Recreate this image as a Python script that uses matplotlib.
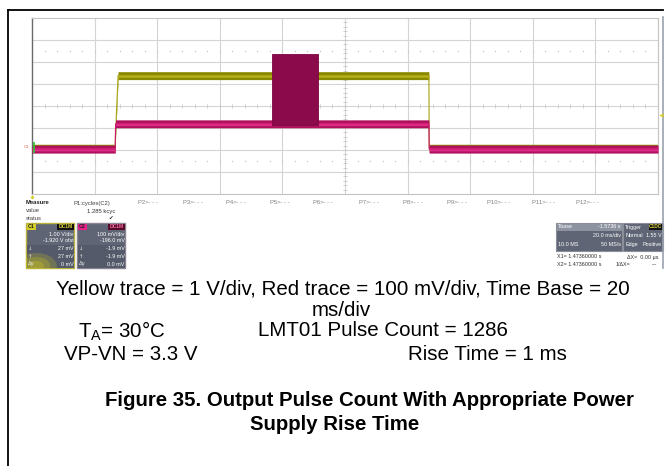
import numpy as np
import matplotlib
matplotlib.use("Agg")
import matplotlib.pyplot as plt
from matplotlib.patches import Rectangle, Ellipse

plt.rcParams['font.family'] = ['Liberation Sans', 'DejaVu Sans']
plt.rcParams['mathtext.fontset'] = 'custom'
plt.rcParams['mathtext.rm'] = 'Liberation Sans'

# scope channel settings
c1_scale = 1.0        # V/div
c1_offset = -1.920    # V
c2_scale = 100.0      # mV/div
c2_offset = -196.0    # mV
time_per_div = 20.0   # ms/div

# C1 (yellow): supply VP-VN in V, time in ms from left of screen
c1_t = [0, 26.5, 27.5, 126.8, 126.9, 200]
c1_v = [0, 0, 3.3, 3.3, 0, 0]

# C2 (red): current sense in mV
c2_t = [0, 26.6, 26.7, 126.8, 126.9, 200]
c2_mv = [0, 0, 115, 115, 0, 0]

# LMT01 output pulse burst seen on C2
burst_t = [76.7, 91.4]
burst_mv = [110, 432]

measure_labels = ["P2>- - -", "P3>- - -", "P4>- - -", "P5>- - -", "P6>- - -", "P7>- - -",
                  "P8>- - -", "P9>- - -", "P10>- - -", "P11>- - -", "P12>- - -"]
measure_x = [138, 183, 226, 270, 313, 359, 403, 447, 487, 532, 576]


def to_div(vals, offset, scale):
    return (np.asarray(vals, dtype=float) + offset) / scale


W, H = 668, 466
fig = plt.figure(figsize=(W / 100, H / 100), dpi=100)
fig.patch.set_facecolor("white")

# ---- scope screen ----
ax = fig.add_axes([32 / W, 1 - 194 / H, 626 / W, 176 / H])
ax.set_xlim(0, 10 * time_per_div)
ax.set_ylim(-4, 4)
ax.set_xticks([])
ax.set_yticks([])
for s in ax.spines.values():
    s.set_color("#c4c4c4")
    s.set_linewidth(0.8)
ax.spines["left"].set_color("#6a6a6a")
ax.spines["left"].set_linewidth(1.0)

grid_c = "#d4d4d4"
for i in range(1, 10):
    ax.axvline(i * time_per_div, color=grid_c, lw=0.8, zorder=0)
for j in range(-3, 4):
    ax.axhline(j, color=grid_c, lw=0.8, zorder=0)

# center cross minor ticks and dotted rows
tick_t = np.arange(0, 200.1, time_per_div / 5)
ax.plot(tick_t, np.zeros_like(tick_t), ls="none", marker="|", ms=3.2, mew=0.6,
        color="#c8c8c8", zorder=0)
tick_y = np.arange(-4, 4.01, 0.2)
ax.plot(np.full_like(tick_y, 100), tick_y, ls="none", marker="_", ms=3.2, mew=0.6,
        color="#c8c8c8", zorder=0)
for yy in (2.5, -2.5):
    ax.plot(tick_t, np.full_like(tick_t, yy), ls="none", marker="s", ms=0.9,
            mew=0, color="#c6c6c6", zorder=0)

# C1 trace
y1 = to_div(c1_v, c1_offset, c1_scale)
ax.fill_between(c1_t, y1 - 0.18, y1 + 0.18, color="#8a8800", lw=0, zorder=2)
ax.fill_between(c1_t, y1 - 0.07, y1 + 0.05, color="#b9b51c", lw=0, zorder=2)
ax.plot(c1_t, y1, color="#a8a414", lw=0.8, zorder=2)

# C2 trace
y2 = to_div(c2_mv, c2_offset, c2_scale)
ax.fill_between(c2_t, y2 - 0.18, y2 + 0.18, color="#b0105e", lw=0, zorder=3)
ax.fill_between(c2_t, y2 - 0.08, y2 + 0.06, color="#e23088", lw=0, zorder=3)
ax.plot(c2_t, y2, color="#c8186e", lw=0.8, zorder=3)

b_lo, b_hi = to_div(burst_mv, c2_offset, c2_scale)
ax.add_patch(Rectangle((burst_t[0], b_lo), burst_t[1] - burst_t[0], b_hi - b_lo,
                       facecolor="#8b0a4b", edgecolor="#7a0640", lw=0.6, zorder=4))

# ---- overlay in pixel coordinates ----
ov = fig.add_axes([0, 0, 1, 1])
ov.set_xlim(0, W)
ov.set_ylim(H, 0)
ov.axis("off")
ov.patch.set_alpha(0)
ov.set_zorder(5)

ov.plot([8, 8], [10, H], color="black", lw=1.3)
ov.plot([8, 663], [10, 10], color="black", lw=1.3)
ov.plot([662.5, 662.5], [17, 268], color="#9aa2ae", lw=1.2)

# channel / trigger markers
ov.plot([661], [114.5], marker="<", ms=3, color="#d4cc1c", mew=0)
ov.plot([32], [197], marker="D", ms=2, color="#d4cc1c", mew=0)
ov.text(29, 146.5, "C1", fontsize=3.2, color="#d86a4a", ha="right", va="center")
ov.plot([33.5, 33.5], [143, 152], color="#38c038", lw=1.3)

# measure table
st = dict(fontsize=4.2, va="center")
ov.text(26, 203, "Measure", color="#202020", fontweight="bold", **st)
ov.text(26, 211, "value", color="#404040", **st)
ov.text(26, 219, "status", color="#404040", **st)
ov.text(73, 203, "P1:cycles(C2)", color="#404040", **st)
ov.text(115, 211, "1.285 kcyc", color="#303030", ha="right", fontsize=4.2, va="center")
ov.text(113, 218.5, "\u2714", color="#303030", ha="right", fontsize=4, va="center",
        family="DejaVu Sans")
for lab, xx in zip(measure_labels, measure_x):
    ov.text(xx, 203, lab, color="#808080", **st)


def channel_box(x0, name, head_bg, tag_bg, tag_fg, edge, lines, glow=None):
    w, h = 48, 45
    ov.add_patch(Rectangle((x0, 223), w, h, facecolor="#5f6575", edgecolor=edge, lw=1.0))
    ov.add_patch(Rectangle((x0 + 0.5, 245), w - 1, 22.5, facecolor="#545a69", lw=0))
    if glow:
        for r, a in ((26, 0.25), (18, 0.3), (10, 0.35)):
            e = Ellipse((x0 + 10, 266), r * 1.6, r, facecolor=glow, alpha=a, lw=0)
            ov.add_patch(e)
            e.set_clip_path(Rectangle((x0, 223), w, h, transform=ov.transData))
    ov.add_patch(Rectangle((x0 + 0.5, 223.5), 9, 6.5, facecolor=head_bg, lw=0))
    ov.text(x0 + 5, 227, name, fontsize=3.8, fontweight="bold", color="#202020",
            ha="center", va="center")
    ov.add_patch(Rectangle((x0 + 31, 223.5), 16.5, 6.5, facecolor=tag_bg, lw=0))
    ov.text(x0 + 39.5, 227, "DC1M", fontsize=3.6, fontweight="bold", color=tag_fg,
            ha="center", va="center")
    ys = [234, 241, 249, 256.5, 264]
    for yy, (left, right) in zip(ys, lines):
        ov.text(x0 + w - 0.5, yy, right, fontsize=3.9, color="white", ha="right", va="center")
        if left:
            ov.text(x0 + 2, yy, left, fontsize=3.9, color="#e8e8e8", ha="left", va="center",
                    family="DejaVu Sans")


channel_box(26, "C1", "#d6cf2a", "#111111", "#e0d840", "#b8b23c",
            [("", "1.00 V/div"), ("", "-1.920 V ofst"), ("\u2193", "27 mV"),
             ("\u2191", "27 mV"), ("\u0394y", "0 mV")], glow="#c8c020")
channel_box(77, "C2", "#e8218c", "#5a0a28", "#f070a8", "#8c8490",
            [("", "100 mV/div"), ("", "-196.0 mV"), ("\u2193", "-1.9 mV"),
             ("\u2191", "-1.9 mV"), ("\u0394y", "0.0 mV")])

# timebase / trigger boxes
ov.add_patch(Rectangle((556, 223), 66, 28, facecolor="#5f6575", edgecolor="#8a8f9a", lw=0.8))
ov.add_patch(Rectangle((556.5, 223.5), 65, 7, facecolor="#8d93a0", lw=0))
ov.add_patch(Rectangle((623, 223), 40, 28, facecolor="#5f6575", edgecolor="#8a8f9a", lw=0.8))
ov.add_patch(Rectangle((649, 224), 13.5, 6, facecolor="#111111", lw=0))
tb = dict(fontsize=3.9, color="white", va="center")
ov.text(558, 227, "Tbase", ha="left", **tb)
ov.text(621, 227, "-1.5736 s", ha="right", **tb)
ov.text(621, 235.5, "20.0 ms/div", ha="right", **tb)
ov.text(558, 244.5, "10.0 MS", ha="left", **tb)
ov.text(621, 244.5, "50 MS/s", ha="right", **tb)
ov.text(625, 227, "Trigger", ha="left", **tb)
ov.text(655.7, 227, "C1DC", fontsize=3.4, fontweight="bold", color="#e0d840",
        ha="center", va="center")
ov.text(625, 235.5, "Normal", ha="left", **tb)
ov.text(662, 235.5, "1.55 V", ha="right", **tb)
ov.text(625, 244.5, "Edge", ha="left", **tb)
ov.text(662, 244.5, "Positive", ha="right", **tb)
xt = dict(fontsize=3.9, color="#303030", va="center")
ov.text(557, 257, "X1= 1.47360000 s", ha="left", **xt)
ov.text(627, 257, "\u0394X=  0.00 \u00b5s", ha="left", **xt)
ov.text(557, 265, "X2= 1.47360000 s", ha="left", **xt)
ov.text(616, 265, "1/\u0394X=", ha="left", **xt)
ov.text(657, 265, "---", ha="right", **xt)

# ---- caption ----
fs = 14.8
cap = dict(fontsize=fs, color="black", ha="center", va="center")
ov.text(343, 289, "Yellow trace = 1 V/div, Red trace = 100 mV/div, Time Base = 20", **cap)
ov.text(341, 310, "ms/div", **cap)
ov.text(78, 331, r"T$_\mathregular{A}$= 30°C", fontsize=fs, ha="left", va="center")
ov.text(258, 331, "LMT01 Pulse Count = 1286", fontsize=fs, ha="left", va="center")
ov.text(64, 354, "VP-VN = 3.3 V", fontsize=fs, ha="left", va="center")
ov.text(408, 354, "Rise Time = 1 ms", fontsize=fs, ha="left", va="center")
ov.text(369, 400, "Figure 35. Output Pulse Count With Appropriate Power",
        fontsize=14.7, fontweight="bold", ha="center", va="center")
ov.text(335, 425, "Supply Rise Time", fontsize=14.7, fontweight="bold", ha="center", va="center")

fig.savefig("out.png", dpi=100)
